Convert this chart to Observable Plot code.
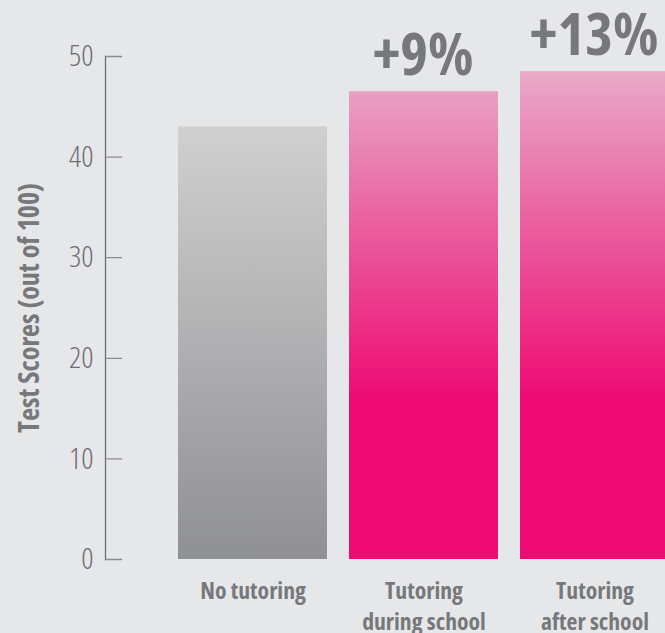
<!DOCTYPE html>
<html><head><meta charset="utf-8">
<script src="https://cdn.jsdelivr.net/npm/d3@7"></script>
<script src="https://cdn.jsdelivr.net/npm/@observablehq/plot@0.6"></script>
<style>
html,body{margin:0;padding:0;background:#e6e7e9;}
svg text{font-stretch:75%;}
svg g.ytick text{font-stretch:87.5%;}
</style></head><body><div id="chart"></div>
<script>
const categories = ["No tutoring", "Tutoring\nduring school", "Tutoring\nafter school"];
const scores = [43.0, 46.5, 48.5];
const changes = ["", "+9%", "+13%"];
const groups = ["control", "treatment", "treatment"];
const yTicks = [0, 10, 20, 30, 40, 50];
const yLabel = "Test Scores (out of 100)";

const data = categories.map((c, i) => ({category: c, score: scores[i], change: changes[i], group: groups[i]}));

const font = "'Open Sans', sans-serif";
const textGray = "#77787b";

const plot = Plot.plot({
  width: 665, height: 633,
  marginLeft: 105, marginRight: 0, marginTop: 56, marginBottom: 74,
  style: {background: "#e6e7e9", fontFamily: font, overflow: "visible"},
  x: {domain: categories, range: [166, 680.5], paddingInner: 0.128, paddingOuter: 0.064},
  y: {domain: [0, 50]},
  marks: [
    Plot.barY(data, {x: "category", y: "score", filter: d => d.group === "control", fill: "url(#gradGray)"}),
    Plot.barY(data, {x: "category", y: "score", filter: d => d.group === "treatment", fill: "url(#gradPink)"}),
    Plot.frame({anchor: "left", stroke: "#6d6e71", strokeWidth: 1.3}),
    Plot.vectorY(yTicks, {frameAnchor: "left", length: 16, rotate: 90, anchor: "start",
      stroke: "#8a8b8d", strokeWidth: 1.3,
      shape: {draw(c, l) { c.moveTo(0, 0); c.lineTo(0, -l); }}}),
    Plot.axisY({ticks: yTicks, tickSize: 0, tickPadding: 12, label: null, fontSize: 30, fontWeight: 300, fill: "#6d6e71"}),
    Plot.axisX({tickSize: 0, tickPadding: 17, label: null, fontSize: 23.7, fontWeight: "bold", fill: textGray, lineHeight: 1.32}),
    Plot.text([yLabel], {frameAnchor: "left", textAnchor: "middle", rotate: -90, dx: -75, fontSize: 28, fontWeight: "bold", fill: textGray}),
    Plot.text(data, {filter: d => d.change, x: "category", y: "score", text: "change", dy: -17, dx: -1,
      lineAnchor: "bottom", fontSize: 59, fontWeight: "bold", fill: textGray, ariaLabel: "annotation"})
  ]
});

document.getElementById("chart").appendChild(plot);
d3.select(plot).selectAll('g[aria-label="y-axis tick label"]').classed("ytick", true);

// gradients
const y = plot.scale("y");
const defs = d3.select(plot).insert("defs", ":first-child");
const gg = defs.append("linearGradient").attr("id", "gradGray")
  .attr("x1", 0).attr("y1", 0).attr("x2", 0).attr("y2", 1);
gg.append("stop").attr("offset", 0).attr("stop-color", "#d0d0d1");
gg.append("stop").attr("offset", 1).attr("stop-color", "#8f9092");
const gp = defs.append("linearGradient").attr("id", "gradPink")
  .attr("gradientUnits", "userSpaceOnUse")
  .attr("x1", 0).attr("x2", 0)
  .attr("y1", y.apply(d3.max(scores))).attr("y2", y.apply(16));
gp.append("stop").attr("offset", 0).attr("stop-color", "#e9aac8");
gp.append("stop").attr("offset", 0.45).attr("stop-color", "#ea62a0");
gp.append("stop").attr("offset", 1).attr("stop-color", "#ee0b73");

// mixed-weight annotation: thin "+" and bold number
d3.select(plot).selectAll("g[aria-label=annotation] text").each(function() {
  const t = this.textContent;
  const sel = d3.select(this);
  sel.text(null);
  sel.append("tspan").text(t.slice(0, 1)).attr("font-weight", 300).attr("font-size", 60);
  sel.append("tspan").text(t.slice(1)).attr("dx", 12);
});
</script>
</body></html>
